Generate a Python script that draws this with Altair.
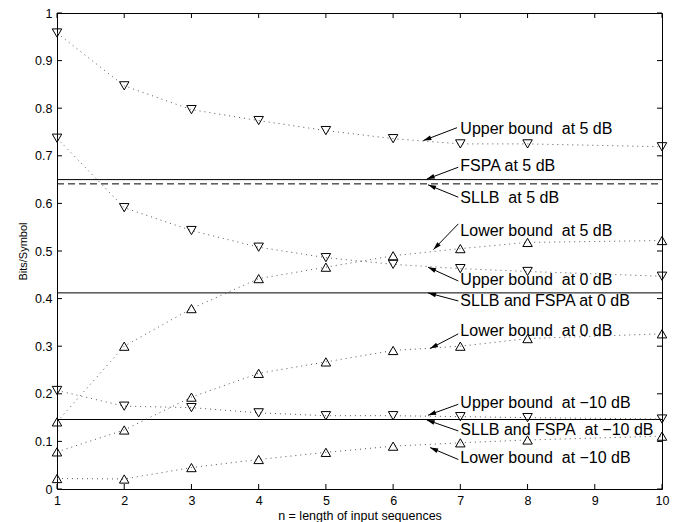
import math
import altair as alt
import pandas as pd

# ---------------- data ----------------
x_vals = [1, 2, 3, 4, 5, 6, 7, 8, 10]
upper_5 = [0.958, 0.847, 0.797, 0.774, 0.753, 0.736, 0.725, 0.725, 0.719]
upper_0 = [0.737, 0.591, 0.543, 0.508, 0.486, 0.472, 0.463, 0.457, 0.447]
upper_m10 = [0.207, 0.174, 0.171, 0.160, 0.154, 0.154, 0.152, 0.150, 0.147]
lower_5 = [0.141, 0.300, 0.379, 0.442, 0.466, 0.490, 0.505, 0.518, 0.522]
lower_0 = [0.078, 0.124, 0.193, 0.243, 0.267, 0.291, 0.300, 0.316, 0.326]
lower_m10 = [0.022, 0.021, 0.045, 0.062, 0.077, 0.090, 0.097, 0.103, 0.111]

series_names = ["upper_5", "upper_0", "upper_m10", "lower_5", "lower_0", "lower_m10"]
series_vals = [upper_5, upper_0, upper_m10, lower_5, lower_0, lower_m10]
series_shape = ["down", "down", "down", "up", "up", "up"]

# horizontal reference levels
solid_levels = [0.650, 0.412, 0.146]
dashed_levels = [0.641]

# annotations
label_text = [
    "Upper bound  at 5 dB",
    "FSPA at 5 dB",
    "SLLB  at 5 dB",
    "Lower bound  at 5 dB",
    "Upper bound  at 0 dB",
    "SLLB and FSPA at 0 dB",
    "Lower bound  at 0 dB",
    "Upper bound  at \u221210 dB",
    "SLLB and FSPA  at \u221210 dB",
    "Lower bound  at \u221210 dB",
]
label_x = [7.0] * 10
label_y = [0.757, 0.678, 0.611, 0.543, 0.439, 0.394, 0.331, 0.180, 0.124, 0.065]
tail_x = [6.95, 6.97, 6.97, 6.97, 6.97, 6.97, 6.97, 6.97, 6.97, 6.97]
tail_y = [0.759, 0.676, 0.613, 0.557, 0.437, 0.395, 0.326, 0.178, 0.122, 0.062]
tip_x = [6.45, 6.50, 6.52, 6.60, 6.52, 6.52, 6.55, 6.52, 6.50, 6.55]
tip_y = [0.732, 0.651, 0.639, 0.503, 0.466, 0.412, 0.295, 0.155, 0.145, 0.087]

x_ticks = [1, 2, 3, 4, 5, 6, 7, 8, 9, 10]
y_ticks = [0, 0.1, 0.2, 0.3, 0.4, 0.5, 0.6, 0.7, 0.8, 0.9, 1]

# ---------------- layout ----------------
W, H = 605, 476
FONT = "Liberation Sans"
XMIN, XMAX, YMIN, YMAX = 1, 10, 0, 1
px_x = W / (XMAX - XMIN)
px_y = H / (YMAX - YMIN)

rows = []
for name, vals, shp in zip(series_names, series_vals, series_shape):
    for xv, yv in zip(x_vals, vals):
        rows.append({"x": xv, "y": yv, "series": name, "shape": shp})
series_df = pd.DataFrame(rows)

solid_df = pd.DataFrame({"x": [XMIN] * len(solid_levels), "x2": [XMAX] * len(solid_levels), "y": solid_levels})
dashed_df = pd.DataFrame({"x": [XMIN] * len(dashed_levels), "x2": [XMAX] * len(dashed_levels), "y": dashed_levels})

HEAD_LEN = 8.0
ann_rows = []
for t, lx, ly, ax, ay, bx, by in zip(label_text, label_x, label_y, tail_x, tail_y, tip_x, tip_y):
    dx = (bx - ax) * px_x
    dy = -(by - ay) * px_y
    ln = math.hypot(dx, dy)
    ux, uy = dx / ln, dy / ln
    ang = math.degrees(math.atan2(dx, -dy)) % 360
    cx = bx - (HEAD_LEN / 2) * ux / px_x
    cy = by + (HEAD_LEN / 2) * uy / px_y
    ann_rows.append({"label": t.replace("  ", "\u00a0 "), "lx": lx, "ly": ly,
                     "x": ax, "y": ay, "x2": bx, "y2": by,
                     "cx": cx, "cy": cy, "angle": ang})
ann_df = pd.DataFrame(ann_rows)

xs = alt.Scale(domain=[XMIN, XMAX], nice=False, zero=False)
ys = alt.Scale(domain=[YMIN, YMAX], nice=False, zero=False)
xa = alt.Axis(values=x_ticks, format="d", ticks=False, tickSize=0, domain=False, grid=False,
              labelPadding=5, title="n = length of input sequences", titlePadding=3,
              labelFontSize=12.5, titleFontSize=12.5, labelFont=FONT, titleFont=FONT,
              labelColor="black", titleColor="black", titleFontWeight="normal", labelFlush=False)
ya = alt.Axis(values=y_ticks, format="~g", ticks=False, tickSize=0, domain=False, grid=False,
              labelPadding=5, title="Bits/Symbol", titlePadding=6,
              labelFontSize=12.5, titleFontSize=11, labelFont=FONT, titleFont=FONT,
              labelColor="black", titleColor="black", titleFontWeight="normal", labelFlush=False)


def X(f):
    return alt.X(f, type="quantitative", scale=xs, axis=xa)


def Y(f):
    return alt.Y(f, type="quantitative", scale=ys, axis=ya)


lines = alt.Chart(series_df).mark_line(color="#555555", strokeWidth=1, strokeDash=[1, 4]).encode(
    x=X("x"), y=Y("y"), detail="series:N", order="x:Q")

points = alt.Chart(series_df).mark_point(filled=False, color="black", size=90, strokeWidth=1, opacity=1).encode(
    x=X("x"), y=Y("y"),
    shape=alt.Shape("shape:N", scale=alt.Scale(domain=["down", "up"], range=["triangle-down", "triangle-up"]),
                    legend=None))

solid = alt.Chart(solid_df).mark_rule(color="black", strokeWidth=1).encode(
    x=X("x"), x2="x2", y=Y("y"))
dashed = alt.Chart(dashed_df).mark_rule(color="black", strokeWidth=1, strokeDash=[7, 4]).encode(
    x=X("x"), x2="x2", y=Y("y"))

arrows = alt.Chart(ann_df).mark_rule(color="black", strokeWidth=1).encode(
    x=X("x"), y=Y("y"), x2="x2", y2="y2")
heads = alt.Chart(ann_df).mark_point(shape="M0,-1L-0.6,1L0.6,1Z", filled=True, color="black",
                                     size=HEAD_LEN ** 2, opacity=1, strokeWidth=0).encode(
    x=X("cx"), y=Y("cy"), angle=alt.Angle("angle:Q", scale=None))
labels = alt.Chart(ann_df).mark_text(align="left", baseline="middle", fontSize=16, font=FONT,
                                     color="black").encode(
    x=X("lx"), y=Y("ly"), text="label:N")

xt_df = pd.DataFrame({"x": x_ticks})
yt_df = pd.DataFrame({"y": y_ticks})
TL = 5
tick_bottom = alt.Chart(xt_df).mark_rule(color="black", strokeWidth=1).encode(
    x=X("x"), y=alt.value(H), y2=alt.value(H - TL))
tick_top = alt.Chart(xt_df).mark_rule(color="black", strokeWidth=1).encode(
    x=X("x"), y=alt.value(0), y2=alt.value(TL))
tick_left = alt.Chart(yt_df).mark_rule(color="black", strokeWidth=1).encode(
    y=Y("y"), x=alt.value(0), x2=alt.value(TL))
tick_right = alt.Chart(yt_df).mark_rule(color="black", strokeWidth=1).encode(
    y=Y("y"), x=alt.value(W), x2=alt.value(W - TL))

chart = alt.layer(
    tick_bottom, tick_top, tick_left, tick_right,
    solid, dashed, lines, points, arrows, heads, labels
).properties(
    width=W, height=H,
    autosize=alt.AutoSizeParams(type="none"),
    padding={"left": 49, "top": 5, "right": 9, "bottom": 33},
    background="white",
).configure_view(stroke="black", strokeWidth=1)

chart.save("out.html", embed_options={"renderer": "svg", "actions": False})
